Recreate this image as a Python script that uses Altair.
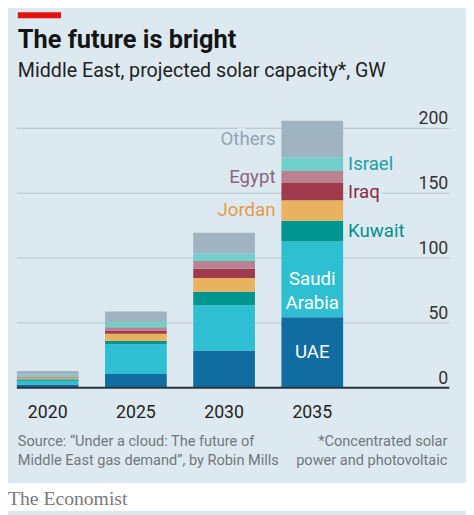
import altair as alt
import pandas as pd

# ---- data ----
years = ["2020", "2025", "2030", "2035"]
countries = ["UAE", "Saudi Arabia", "Kuwait", "Jordan", "Iraq", "Egypt", "Israel", "Others"]
uae = [2.5, 10.6, 28.8, 54.3]
saudi = [3.0, 23.0, 34.8, 58.4]
kuwait = [1.0, 2.5, 10.4, 16.1]
jordan = [1.0, 5.6, 10.6, 15.7]
iraq = [0.4, 2.5, 7.1, 13.3]
egypt = [0.8, 2.5, 6.0, 9.4]
israel = [1.3, 3.8, 5.8, 10.4]
others = [3.0, 8.4, 16.0, 28.2]
y_ticks = [0, 50, 100, 150, 200]

bar_colors = ["#116ca2", "#2fbfd3", "#00968f", "#e8b25f", "#9e3a4c", "#ba8290", "#6fcfca", "#9fb3c1"]
label_colors = ["#ffffff", "#ffffff", "#00918c", "#e39d45", "#8a2a44", "#8e6384", "#1a9fa5", "#8fa5b5"]
label_text = ["UAE", "Saudi\nArabia", "Kuwait", "Jordan", "Iraq", "Egypt", "Israel", "Others"]
label_side = ["in", "in", "right", "left", "right", "left", "right", "left"]

series = [uae, saudi, kuwait, jordan, iraq, egypt, israel, others]

rows = []
for yi, yr in enumerate(years):
    base = 0.0
    for ci, c in enumerate(countries):
        v = series[ci][yi]
        rows.append({"year": yr, "country": c, "y0": base, "y1": base + v,
                     "mid": base + v / 2, "col": bar_colors[ci],
                     "tcol": label_colors[ci], "label": label_text[ci],
                     "side": label_side[ci]})
        base += v
df = pd.DataFrame(rows)
lab = df[df["year"] == "2035"]

BG = "#dde9f1"
FONT = "Roboto"

xscale = alt.Scale(domain=years, range=[9, 341], paddingInner=0.3, paddingOuter=0)
yscale = alt.Scale(domain=[0, 200], range=[382, 118], nice=False, zero=False)

W, H = 466, 507


def txt(t, x, y, **kw):
    return alt.Chart(alt.Data(values=[{}])).mark_text(text=t, font=FONT, **kw).encode(
        x=alt.value(x), y=alt.value(y))


panel_white = alt.Chart(alt.Data(values=[{}])).mark_rect(color="#ffffff").encode(
    x=alt.value(0), x2=alt.value(W), y=alt.value(479), y2=alt.value(H))
red = alt.Chart(alt.Data(values=[{}])).mark_rect(color="#e3120b").encode(
    x=alt.value(10), x2=alt.value(54), y=alt.value(0), y2=alt.value(6))

ticks_df = pd.DataFrame({"v": y_ticks, "t": [str(v) for v in y_ticks]})
grid = alt.Chart(ticks_df[ticks_df.v > 0]).mark_rule(color="#b5c4ce", strokeWidth=1).encode(
    y=alt.Y("v:Q", scale=yscale, axis=None), x=alt.value(9), x2=alt.value(449))
zero = alt.Chart(ticks_df[ticks_df.v == 0]).mark_rule(color="#27343d", strokeWidth=2).encode(
    y=alt.Y("v:Q", scale=yscale, axis=None), x=alt.value(9), x2=alt.value(449))
tick_labels = alt.Chart(ticks_df).mark_text(font=FONT, fontSize=18, align="right",
                                            baseline="alphabetic", dy=-4, color="#333333").encode(
    y=alt.Y("v:Q", scale=yscale, axis=None), x=alt.value(448), text="t:N")

bars = alt.Chart(df).mark_bar().encode(
    x=alt.X("year:N", scale=xscale, axis=None),
    y=alt.Y("y0:Q", scale=yscale, axis=None),
    y2="y1:Q",
    color=alt.Color("col:N", scale=None),
)

year_labels = alt.Chart(pd.DataFrame({"year": years})).mark_text(
    font=FONT, fontSize=18, baseline="alphabetic", color="#222222").encode(
    x=alt.X("year:N", scale=xscale, axis=None, bandPosition=0.5),
    y=alt.value(413), text="year:N")


def side_layer(side, align, bandpos, dx, halo=False):
    d = lab[lab["side"] == side]
    kw = dict(font=FONT, fontSize=19, align=align, baseline="middle", dx=dx, lineBreak="\n",
              lineHeight=24)
    if halo:
        m = alt.Chart(d).mark_text(stroke=BG, strokeWidth=6, fill=BG, **kw)
        enc = {}
    else:
        m = alt.Chart(d).mark_text(**kw)
        enc = {"color": alt.Color("tcol:N", scale=None)}
    return m.encode(
        x=alt.X("year:N", scale=xscale, axis=None, bandPosition=bandpos),
        y=alt.Y("mid:Q", scale=yscale, axis=None),
        text="label:N", **enc)


SRC = 14.8
layers = [
    panel_white, red,
    txt("The future is bright", 10, 36, fontSize=25.8, fontWeight="bold", align="left",
        baseline="alphabetic", color="#141414"),
    txt("Middle East, projected solar capacity*, GW", 10, 66, fontSize=20, align="left",
        baseline="alphabetic", color="#222222"),
    grid, tick_labels,
    side_layer("left", "right", 0, -6, halo=True),
    side_layer("right", "left", 1, 5, halo=True),
    bars, zero,
    side_layer("left", "right", 0, -6),
    side_layer("right", "left", 1, 5),
    side_layer("in", "center", 0.5, 0),
    year_labels,
    txt("Source: “Under a cloud: The future of", 10, 441, fontSize=SRC, align="left",
        baseline="alphabetic", color="#6f777c"),
    txt("Middle East gas demand”, by Robin Mills", 10, 461, fontSize=SRC, align="left",
        baseline="alphabetic", color="#6f777c"),
    txt("*Concentrated solar", 447, 441, fontSize=SRC, align="right",
        baseline="alphabetic", color="#6f777c"),
    txt("power and photovoltaic", 447, 461, fontSize=SRC, align="right",
        baseline="alphabetic", color="#6f777c"),
    alt.Chart(alt.Data(values=[{}])).mark_text(text="The Economist", font="Liberation Serif",
                                                fontSize=20, align="left", baseline="alphabetic",
                                                color="#7a7a7a").encode(
        x=alt.value(0), y=alt.value(501)),
]

chart = alt.layer(*layers).properties(
    width=W, height=H, background=BG, padding=0,
    autosize=alt.AutoSizeParams(type="none"),
).configure_view(stroke=None)

chart.save("out.html", embed_options={"renderer": "svg", "actions": False})
